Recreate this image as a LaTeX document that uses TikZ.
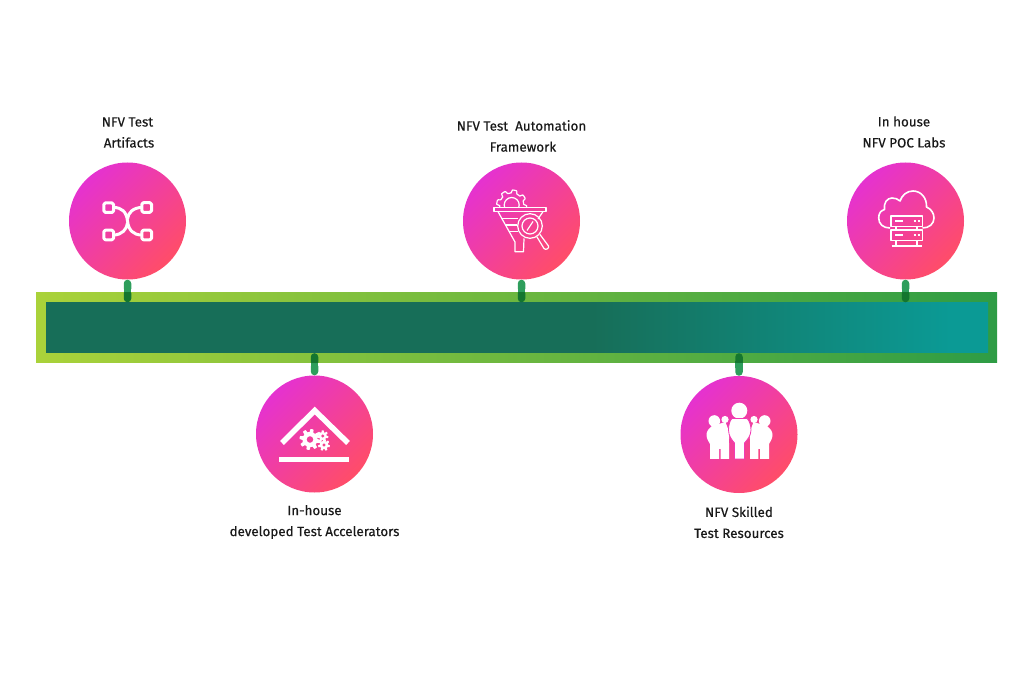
\documentclass[tikz,border=0pt]{standalone}
\usepackage{fontspec}
\setmainfont{Fira Sans}[FakeBold=0.35]
\usepackage{xcolor}
\definecolor{BallPink}{HTML}{E532D0}
\definecolor{BallRed}{HTML}{FF4D68}
\definecolor{BallMid}{HTML}{F13BB4}
\definecolor{OuterLeft}{HTML}{AAD23A}
\definecolor{OuterRight}{HTML}{2E9C45}
\definecolor{InnerLeft}{HTML}{176E58}
\definecolor{InnerRight}{HTML}{0B9A95}
\definecolor{StubLight}{HTML}{2E9E5C}
\definecolor{StubDark}{HTML}{14762F}
\usetikzlibrary{arrows.meta}

% inner bar stays dark until about 60 percent
\pgfdeclarehorizontalshading{innerbar}{100bp}{
    color(0bp)=(InnerLeft); color(25bp)=(InnerLeft); color(54bp)=(InnerLeft);
    color(73bp)=(InnerRight); color(100bp)=(InnerRight)}

% #1 path options, #2 #3 centre, #4 radius, #5 tooth height, #6 teeth, #7 hole radius
\newcommand{\gearicon}[7]{
    \path[#1] plot[samples=121, domain=0:360, variable=\t]
        ({#2+(#4+#5*max(-1,min(1,3*sin(#6*\t))))*cos(\t)},
         {#3+(#4+#5*max(-1,min(1,3*sin(#6*\t))))*sin(\t)}) -- cycle
        (#2,#3) circle[radius=#7];
}

\begin{document}
\begin{tikzpicture}[
    x=1pt, y=-1pt,
    ball/.style={circle, minimum size=117pt, inner sep=0pt,
        top color=BallPink, bottom color=BallRed, shading angle=45},
    baroutside/.style={rectangle, minimum width=961pt, minimum height=70.5pt, inner sep=0pt,
        left color=OuterLeft, right color=OuterRight},
    barinside/.style={rectangle, minimum width=942pt, minimum height=50.5pt, inner sep=0pt,
        shading=innerbar},
    stublight/.style={draw=StubLight, line width=7.5pt, {Round Cap[]}-},
    stubdark/.style={draw=StubDark, line width=7.5pt, -{Round Cap[]}},
    caption/.style={font=\fontsize{13.4}{21}\selectfont, align=center, text=black!90},
    iconline/.style={draw=white, line width=#1, line join=round},
    iconline/.default=1.2pt,
]
\useasboundingbox (0,0) rectangle (1021,676);

% Bar
\node[baroutside] (barout) at (516.5,327.75) {};
\node[barinside] (barin) at (517,327.75) {};

% Circles
\node[ball] (artifacts) at (127.5,221) {};
\node[ball] (framework) at (521.5,221) {};
\node[ball] (labs) at (905.5,221) {};
\node[ball] (accel) at (314.5,434) {};
\node[ball] (skilled) at (739,434.5) {};

% Stubs above the bar
\foreach \n in {artifacts, framework, labs} {
    \draw[stublight] (\n.south) -- (\n.south |- barout.north);
    \draw[stubdark] (\n.south |- barout.north) -- (\n.south |- barin.north);
}
% Stubs below the bar
\foreach \n in {accel, skilled} {
    \draw[stublight] (\n.north) -- (\n.north |- barout.south);
    \draw[stubdark] (\n.north |- barout.south) -- (\n.north |- barin.south);
}

% Captions
\node[caption] (artifactstext) at (127.5,132.5) {NFV Test\\\hspace*{3pt}Artifacts};
\node[caption] (frameworktext) at (521.5,136) {NFV Test\ \ Automation\\\hspace*{3pt}Framework};
\node[caption] (labstext) at (904,132) {In house\\NFV POC Labs};
\node[caption] (acceltext) at (314.5,522) {In-house\\developed Test Accelerators};
\node[caption] (skilledtext) at (739,522.3) {NFV Skilled\\Test Resources};

% Icon: linked squares
\foreach \p in {(108.7,207.7), (146.7,207.5), (108.7,235), (146.7,235)} {
    \draw[iconline=3pt, rounded corners=1.5pt] \p +(-4.8,-4.8) rectangle +(4.8,4.8);
}
\draw[iconline=3pt] (113.5,207.5) .. controls (122,207.5) and (126.5,212) .. (127.5,221)
    .. controls (128.5,230) and (133,235) .. (142,235);
\draw[iconline=3pt] (142,207.5) .. controls (133,207.5) and (128,213) .. (127.5,219);
\draw[iconline=3pt] (113.5,235) .. controls (122,235) and (127,229) .. (127.5,223);

% Icon: funnel with gear and lens
\begin{scope}
    \clip (490,185) rectangle (550,207.5);
    \gearicon{iconline}{511.7}{205}{13.5}{1.5}{8}{7.5}
\end{scope}
\draw[iconline] (494,207.8) rectangle (546,211.6);
\draw[iconline] (498,211.6) -- (515,242) -- (515,251.7) -- (523.5,251.7) -- (524,238.5);
\draw[iconline] (501,218.5) -- (518,218.5);
\draw[iconline] (505,225) -- (517,225);
\draw[iconline] (508.5,231.5) -- (518,231.5);
\draw[iconline] (543,211.6) -- (538,219);
\draw[iconline] (530,226) circle[radius=12.3];
\draw[iconline] (530,226) circle[radius=8];
\draw[iconline] (527,230.5) -- (533,221.5);
\draw[iconline] (536.8,236.7) -- (544,248.5) .. controls (545.5,250.5) and (549.5,248.5) .. (548.5,246) -- (540,234.5);

% Icon: cloud with servers
\draw[iconline=1.6pt] (890,228) .. controls (883,228) and (878.7,224) .. (878.7,218)
    .. controls (878.7,213) and (881,210.5) .. (884.5,209.5)
    .. controls (883.5,203) and (887,198) .. (892,198)
    .. controls (895,198) and (898,199) .. (900,201)
    .. controls (902,195) and (907,191) .. (913,191)
    .. controls (921,191) and (927,198) .. (926.5,207)
    .. controls (931,209) and (934,213) .. (934,218)
    .. controls (934,224) and (929,228) .. (922.5,228);
\foreach \y in {216, 230} {
    \draw[iconline=1.6pt] (890.7,\y) rectangle (922.3,\y+10.5);
    \draw[iconline=1.8pt] (895,\y+5) -- (903,\y+5);
    \draw[iconline=1.8pt] (913.5,\y+5) -- (915.5,\y+5);
    \draw[iconline=1.8pt] (917.5,\y+5) -- (919.5,\y+5);
}
\draw[iconline=1.6pt] (896,226.5) -- (896,230);
\draw[iconline=1.6pt] (917,226.5) -- (917,230);
\draw[iconline=1.6pt] (896,240.5) -- (896,246);
\draw[iconline=1.6pt] (917,240.5) -- (917,246);
\draw[iconline=1.8pt] (891.5,246.3) -- (921.5,246.3);

% Icon: roof and gears
\draw[iconline=5.5pt, miter limit=10, line join=miter] (282,443) -- (314.7,410.5) -- (348,443);
\fill[white] (279,457) rectangle (349,462.3);
\gearicon{even odd rule, fill=white}{310}{439.5}{9}{1.5}{8}{3.4}
\gearicon{even odd rule, fill=white}{322.7}{436}{4.8}{0.9}{7}{1.8}
\gearicon{even odd rule, fill=white}{324}{445}{5}{0.9}{7}{1.9}

% Icon: three people
\foreach \s in {1,-1} {
\begin{scope}[shift={(739.5,0)}, xscale=\s]
    \fill[white] (-25.2,421) circle[radius=5.8];
    \fill[white] (-14.5,419.5) circle[radius=3.6];
    \fill[white] (-27.5,426) .. controls (-31,429) and (-33,431) .. (-33,435)
        .. controls (-33,439) and (-30.5,442) .. (-29.5,444) -- (-29.5,459) -- (-20.5,459) -- (-20.5,449)
        -- (-18.8,449) -- (-18.8,459) -- (-10.5,459) -- (-10.5,444)
        .. controls (-11,441) and (-10.2,438) .. (-10.2,434)
        .. controls (-10.2,431) and (-12,428) .. (-14,422) -- cycle;
\end{scope}
}
\fill[white] (739.3,410.7) circle[radius=8];
\fill[white, draw=BallMid, line width=0.8pt] (732,418.5) .. controls (730,420) and (728.5,425) .. (728.5,430)
    .. controls (728.5,436) and (732,440) .. (734.5,443) -- (734.5,459) -- (744.5,459) -- (744.5,443)
    .. controls (747,440) and (751,436) .. (751,430)
    .. controls (751,425) and (749,420) .. (747,418.5) -- cycle;
\end{tikzpicture}
\end{document}
